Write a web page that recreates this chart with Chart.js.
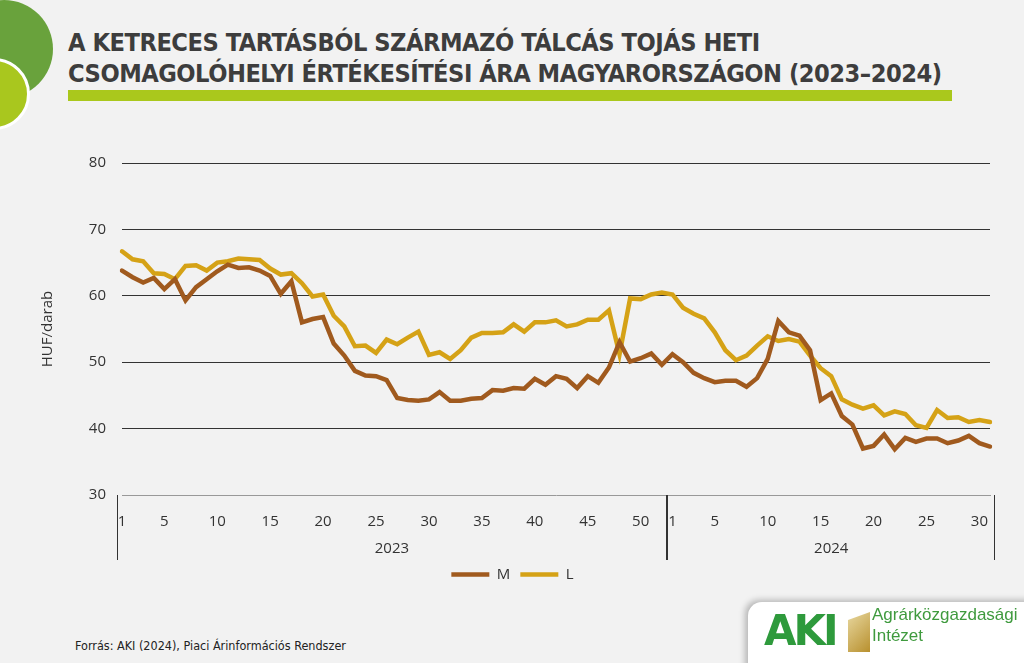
<!DOCTYPE html>
<html>
<head>
<meta charset="utf-8">
<script src="https://cdn.jsdelivr.net/npm/chart.js@4.4.1/dist/chart.umd.min.js"></script>
<style>
  body { margin: 0; background: #f2f2f2; width: 1024px; height: 663px; overflow: hidden; position: relative; font-family: "Open Sans", sans-serif; }
  .circ1 { position: absolute; left: -45px; top: 0px; width: 98px; height: 98px; border-radius: 50%; background: #69a23c; }
  .circ2 { position: absolute; left: -42px; top: 58px; width: 66px; height: 66px; border-radius: 50%; background: #a9c71e; border: 3px solid #fff; }
  .title { position: absolute; left: 68px; top: 27px; font-family: "DejaVu Sans Condensed", "DejaVu Sans", sans-serif; font-weight: bold; font-size: 25.2px; line-height: 31px; color: #3d3d3d; letter-spacing: -0.5px; white-space: nowrap; }
  .bar { position: absolute; left: 68px; top: 90px; width: 884px; height: 11px; background: #aac81c; }
  .wrap { position: absolute; left: 0; top: 0; width: 1024px; height: 600px; }
  .src { position: absolute; left: 75px; top: 638px; font-family: "DejaVu Sans Condensed", sans-serif; font-size: 12.5px; color: #222; }
  .logo { position: absolute; left: 748px; top: 602px; width: 290px; height: 70px; background: #fff; border-radius: 14px 0 0 0; box-shadow: -3px -2px 6px rgba(0,0,0,0.25); }
  .aki { position: absolute; left: 16px; top: 4px; font-family: "DejaVu Sans", sans-serif; font-weight: bold; font-size: 42px; color: #2e9a3c; letter-spacing: -3px; }
  .emb { position: absolute; left: 100px; top: 10px; width: 22px; height: 40px; background: linear-gradient(135deg, #e8d8a0, #b8902e); clip-path: polygon(0 20%, 100% 0, 100% 100%, 0 100%); }
  .ain { position: absolute; left: 124px; top: 2px; font-family: "Liberation Sans", sans-serif; font-size: 17px; line-height: 21px; color: #3f9a3e; }
</style>
</head>
<body>
<div class="circ1"></div>
<div class="circ2"></div>
<div class="title">A KETRECES TARTÁSBÓL SZÁRMAZÓ TÁLCÁS TOJÁS HETI<br>CSOMAGOLÓHELYI ÉRTÉKESÍTÉSI ÁRA MAGYARORSZÁGON (2023–2024)</div>
<div class="bar"></div>
<div class="wrap"><canvas id="eggs"></canvas></div>
<div class="src">Forrás: AKI (2024), Piaci Árinformációs Rendszer</div>
<div class="logo"><div class="aki">AKI</div><div class="emb"></div><div class="ain">Agrárközgazdasági<br>Intézet</div></div>
<script>
// years and number of weeks shown in each
var years = ['2023', '2024'];
var weeksPerYear = [52, 31];

// HUF/darab, M size
var priceM = [
  63.8, 62.8, 62.0, 62.7, 61.0, 62.5, 59.3, 61.3, 62.5, 63.7,
  64.7, 64.2, 64.3, 63.8, 63.0, 60.3, 62.2, 56.0, 56.5, 56.8,
  52.8, 51.0, 48.7, 48.0, 47.9, 47.3, 44.6, 44.3, 44.2, 44.4,
  45.5, 44.2, 44.2, 44.5, 44.6, 45.8, 45.7, 46.1, 46.0, 47.5,
  46.6, 47.9, 47.5, 46.1, 47.9, 46.9, 49.2, 53.0, 50.1, 50.6,
  51.3, 49.6,
  51.2, 50.0, 48.4, 47.6, 47.0, 47.2, 47.2, 46.3, 47.6, 50.5,
  56.2, 54.5, 54.0, 51.8, 44.3, 45.3, 41.9, 40.6, 37.0, 37.4,
  39.1, 36.9, 38.6, 38.0, 38.5, 38.5, 37.8, 38.2, 38.9, 37.8,
  37.3
];

// HUF/darab, L size
var priceL = [
  66.7, 65.5, 65.2, 63.4, 63.3, 62.5, 64.5, 64.6, 63.8, 65.0,
  65.2, 65.6, 65.5, 65.4, 64.1, 63.2, 63.4, 61.9, 59.9, 60.2,
  57.0, 55.4, 52.4, 52.5, 51.4, 53.4, 52.7, 53.7, 54.6, 51.1,
  51.5, 50.5, 51.8, 53.7, 54.4, 54.4, 54.5, 55.7, 54.6, 56.0,
  56.0, 56.3, 55.4, 55.7, 56.4, 56.4, 57.8, 51.2, 59.6, 59.5,
  60.2, 60.5,
  60.2, 58.2, 57.3, 56.6, 54.5, 51.8, 50.3, 51.0, 52.5, 53.9,
  53.2, 53.5, 53.1, 51.0, 49.1, 47.9, 44.4, 43.6, 43.0, 43.5,
  42.0, 42.6, 42.2, 40.5, 40.1, 42.8, 41.6, 41.7, 41.0, 41.3,
  41.0
];

var weeks = [];
for (var y = 0; y < years.length; y++) {
  for (var w = 1; w <= weeksPerYear[y]; w++) weeks.push(w);
}

var tickFont = { family: 'Open Sans', size: 15 };

// draws the year row and the separators under the week ticks
var yearRows = {
  id: 'yearRows',
  afterDraw: function (chart) {
    var ctx = chart.ctx;
    var xs = chart.scales.x;
    var top = xs.top;
    var bottom = top + 65;
    var step = xs.getPixelForValue(1) - xs.getPixelForValue(0);
    var start = 0;
    ctx.save();
    ctx.strokeStyle = '#333';
    ctx.lineWidth = 1;
    ctx.fillStyle = '#333';
    ctx.font = '15px "Open Sans"';
    ctx.textAlign = 'center';
    ctx.textBaseline = 'middle';
    for (var i = 0; i < years.length; i++) {
      var l = xs.getPixelForValue(start) - step / 2;
      var r = xs.getPixelForValue(start + weeksPerYear[i] - 1) + step / 2;
      ctx.beginPath();
      ctx.moveTo(Math.round(l) + 0.5, top);
      ctx.lineTo(Math.round(l) + 0.5, bottom);
      ctx.moveTo(Math.round(r) - 0.5, top);
      ctx.lineTo(Math.round(r) - 0.5, bottom);
      ctx.stroke();
      ctx.fillText(years[i], (l + r) / 2, top + 54);
      start += weeksPerYear[i];
    }
    ctx.restore();
  }
};

var ctx = document.getElementById('eggs').getContext('2d');
var eggChart = new Chart(ctx, {
  type: 'line',
  data: {
    labels: weeks,
    datasets: [{
      label: 'M',
      data: priceM,
      borderColor: '#a05a1e',
      backgroundColor: '#a05a1e',
      borderWidth: 4.5,
      pointRadius: 0,
      tension: 0,
      borderCapStyle: 'round'
    }, {
      label: 'L',
      data: priceL,
      borderColor: '#d5a216',
      backgroundColor: '#d5a216',
      borderWidth: 4.5,
      pointRadius: 0,
      tension: 0,
      borderCapStyle: 'round'
    }]
  },
  options: {
    responsive: true,
    maintainAspectRatio: false,
    animation: false,
    layout: { padding: { top: 163, right: 34, left: 35, bottom: 8 } },
    plugins: {
      title: { display: false },
      tooltip: { enabled: false },
      legend: {
        position: 'bottom',
        labels: {
          usePointStyle: true,
          pointStyle: 'line',
          pointStyleWidth: 38,
          color: '#333',
          font: tickFont,
          padding: 10
        }
      }
    },
    scales: {
      x: {
        afterFit: function (s) { s.height = 62; },
        grid: { display: false },
        border: { display: true, color: '#999' },
        ticks: {
          autoSkip: false,
          maxRotation: 0,
          color: '#333',
          font: tickFont,
          padding: 10,
          callback: function (v, i) {
            var wk = weeks[i];
            return (wk === 1 || wk % 5 === 0) ? String(wk) : '';
          }
        }
      },
      y: {
        min: 30,
        max: 80,
        afterFit: function (s) { s.width = 87; },
        border: { display: false },
        grid: {
          drawTicks: false,
          color: function (c) { return c.tick.value === 30 ? 'rgba(0,0,0,0)' : '#333'; }
        },
        ticks: { stepSize: 10, color: '#333', font: tickFont, padding: 16 },
        title: { display: true, text: 'HUF/darab', color: '#333', font: tickFont, padding: { bottom: 18 } }
      }
    }
  },
  plugins: [yearRows]
});
</script>
</body>
</html>
